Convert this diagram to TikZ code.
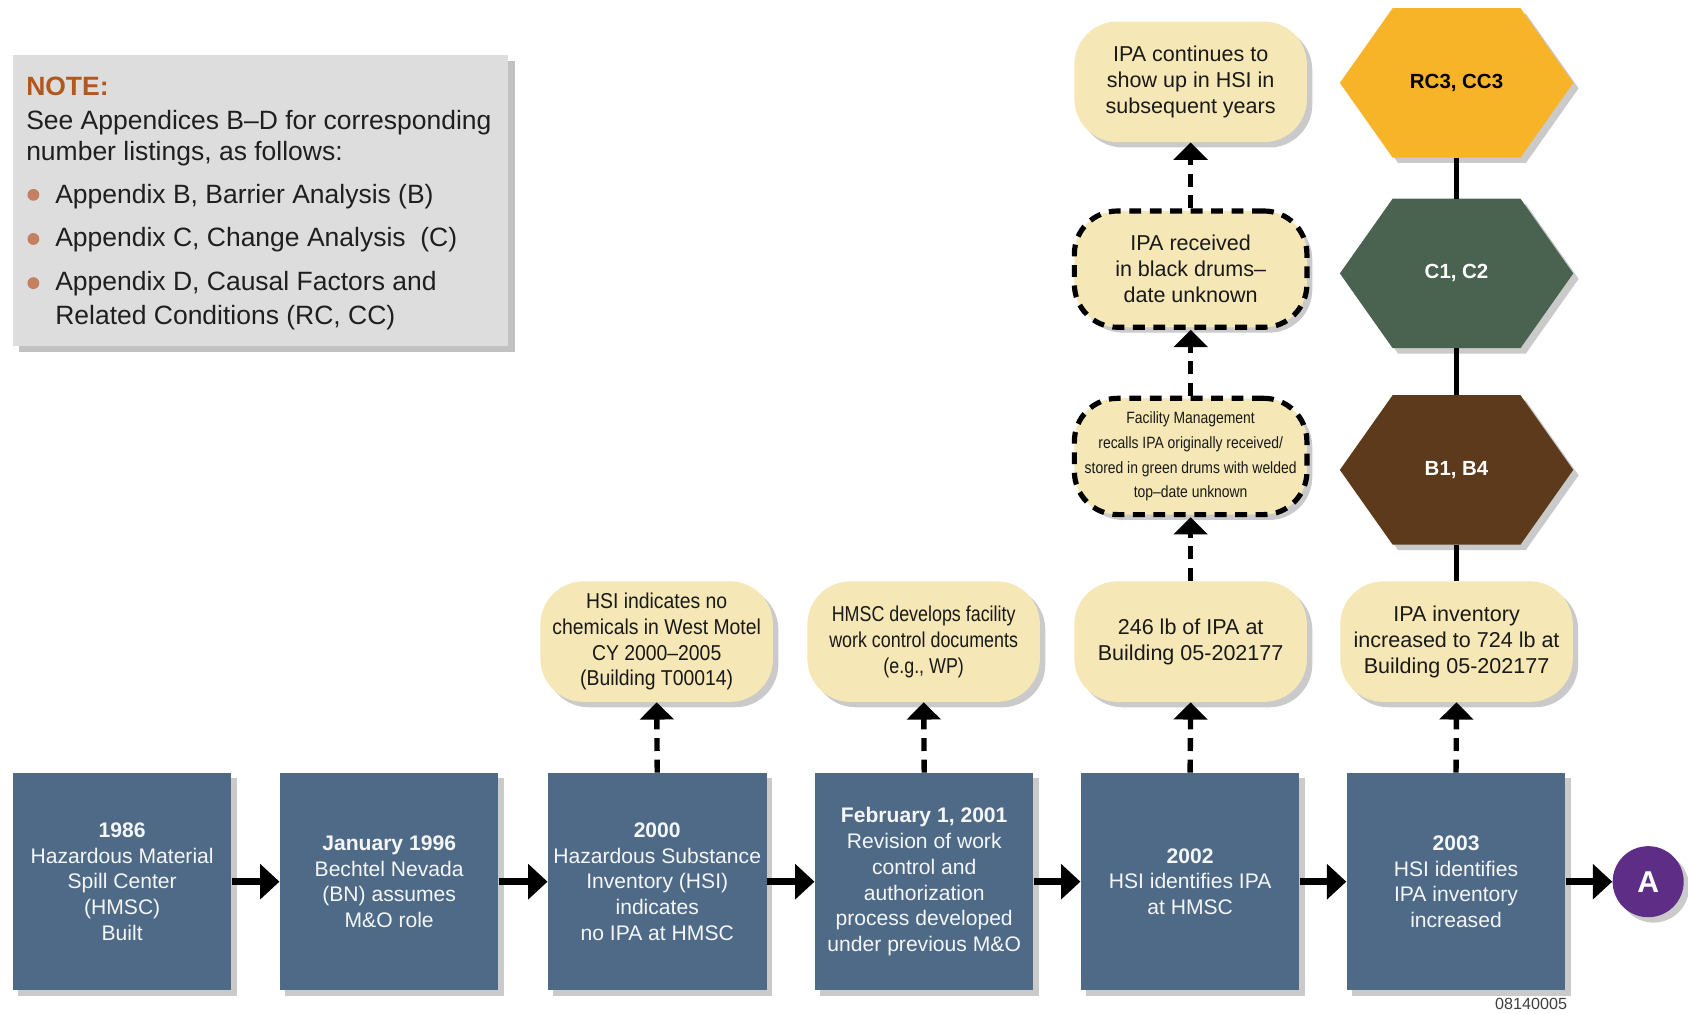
\documentclass[tikz,border=0pt]{standalone}
\usepackage{fontspec}
\setmainfont{Liberation Sans}
\newfontfamily\narrowA[FakeStretch=0.9]{Liberation Sans}
\newfontfamily\narrowB[FakeStretch=0.83]{Liberation Sans}
\newfontfamily\narrowC[FakeStretch=0.85]{Liberation Sans}
\usetikzlibrary{arrows.meta,shadows,calc}
\definecolor{boxblue}{RGB}{78,106,134}
\definecolor{pillfill}{RGB}{245,231,182}
\definecolor{notegray}{RGB}{221,221,221}
\definecolor{notebrown}{RGB}{176,88,30}
\definecolor{bulletc}{RGB}{196,128,96}
\definecolor{hexyellow}{RGB}{248,180,40}
\definecolor{hexgreen}{RGB}{74,99,80}
\definecolor{hexbrown}{RGB}{92,58,27}
\definecolor{purpleA}{RGB}{94,45,134}
\pgfdeclarelayer{bg}
\pgfsetlayers{bg,main}
\newcommand\hexfill[2]{%
  \fill[#2, drop shadow={shadow xshift=2.5pt,shadow yshift=-2.5pt,opacity=0.35,fill=black!60}]
    (#1.west) -- ($(#1.north west)+(49,0)$) -- ($(#1.north east)+(-49,0)$) --
    (#1.east) -- ($(#1.south east)+(-49,0)$) -- ($(#1.south west)+(49,0)$) -- cycle;}
\begin{document}
\begin{tikzpicture}[x=0.5pt,y=-0.5pt,
  shad/.style={drop shadow={shadow xshift=2.5pt,shadow yshift=-2.5pt,opacity=0.35,fill=black!60}},
  evt/.style={rectangle, fill=boxblue, minimum width=101.5pt, minimum height=101pt,
    align=center, text=white!94!boxblue, font=\fontsize{9.8}{12}\selectfont, inner sep=0pt, shad},
  pill/.style={rectangle, rounded corners=20pt, fill=pillfill, minimum width=108pt,
    minimum height=56pt, align=center, text=black!90, inner sep=0pt,
    font=\fontsize{10}{12}\selectfont, shad},
  dpill/.style={pill, draw=black, line width=2.4pt, dash pattern=on 5.5pt off 4pt, minimum height=54pt},
  hexnode/.style={rectangle, minimum width=108pt, minimum height=69pt, inner sep=0pt,
    font=\bfseries\fontsize{9.5}{11}\selectfont},
  sarrow/.style={line width=3.3pt, -{Triangle[width=16pt,length=9pt]}},
  darrow/.style={line width=2.5pt, dash pattern=on 6pt off 4pt, -{Triangle[width=15.5pt,length=8pt]}},
  conn/.style={line width=2.5pt},
  notetext/.style={anchor=base west, inner sep=0pt, font=\fontsize{12.3}{15}\selectfont, text=black!88},
  bullet/.style={circle, fill=bulletc, minimum size=5.5pt, inner sep=0pt}
]
\useasboundingbox (0,0) rectangle (1568,941);

% NOTE box
\node[rectangle, fill=notegray, minimum width=230pt, minimum height=135pt, inner sep=0pt,
  drop shadow={shadow xshift=3pt,shadow yshift=-3pt,opacity=0.4,fill=black!60}] (note) at (242,186) {};
\node[notetext, font=\bfseries\fontsize{12.3}{15}\selectfont, text=notebrown] (notehead) at (24,89) {NOTE:};
\node[notetext] (nl1) at (24,120) {See Appendices B–D for corresponding};
\node[notetext] (nl2) at (24,149) {number listings, as follows:};
\node[bullet] (bu1) at (31,181) {};
\node[notetext] (nb1) at (51,189) {Appendix B, Barrier Analysis (B)};
\node[bullet] (bu2) at (31,222) {};
\node[notetext] (nb2) at (51,229) {Appendix C, Change Analysis\ \ (C)};
\node[bullet] (bu3) at (31,263) {};
\node[notetext] (nb3) at (51,270) {Appendix D, Causal Factors and};
\node[notetext] (nb4) at (51,301) {Related Conditions (RC, CC)};

% Event boxes
\node[evt] (b1) at (113.5,819) {\textbf{1986}\\Hazardous Material\\Spill Center\\(HMSC)\\Built};
\node[evt] (b2) at (361.5,819) {\textbf{January 1996}\\Bechtel Nevada\\(BN) assumes\\M\&O role};
\node[evt] (b3) at (610.5,819) {\textbf{2000}\\Hazardous Substance\\Inventory (HSI)\\indicates\\no IPA at HMSC};
\node[evt] (b4) at (858.5,819) {\textbf{February 1, 2001}\\Revision of work\\control and\\authorization\\process developed\\under previous M\&O};
\node[evt] (b5) at (1105.5,819) {\textbf{2002}\\HSI identifies IPA\\at HMSC};
\node[evt] (b6) at (1352.5,819) {\textbf{2003}\\HSI identifies\\IPA inventory\\increased};
\node[circle, fill=purpleA, minimum size=33pt, inner sep=0pt, text=white,
  font=\bfseries\fontsize{14}{16}\selectfont, shad] (A) at (1531,819) {A};

\draw[sarrow] (b1) -- (b2);
\draw[sarrow] (b2) -- (b3);
\draw[sarrow] (b3) -- (b4);
\draw[sarrow] (b4) -- (b5);
\draw[sarrow] (b5) -- (b6);
\draw[sarrow] (b6) -- (A);

% Pills row
\node[pill, font=\narrowA\fontsize{10}{12}\selectfont] (p3) at (610,596)
  {HSI indicates no\\chemicals in West Motel\\CY 2000–2005\\(Building T00014)};
\node[pill, font=\narrowB\fontsize{10}{12}\selectfont] (p4) at (858,596)
  {HMSC develops facility\\work control documents\\(e.g., WP)};
\node[pill] (p5) at (1106,596) {246 lb of IPA at\\Building 05-202177};
\node[pill] (p6) at (1353,596) {IPA inventory\\increased to 724 lb at\\Building 05-202177};

\draw[darrow] (b3.north) -- (p3.south);
\draw[darrow] (b4.north) -- (p4.south);
\draw[darrow] (b5.north) -- (p5.south);
\draw[darrow] (b6.north) -- (p6.south);

% Column above 2002
\node[dpill, font=\narrowC\fontsize{7.6}{11.5}\selectfont] (q1) at (1106,424)
  {Facility Management\\recalls IPA originally received/\\stored in green drums with welded\\top–date unknown};
\node[dpill] (q2) at (1106,250) {IPA received\\in black drums–\\date unknown};
\node[pill] (q3) at (1106,76) {IPA continues to\\show up in HSI in\\subsequent years};

\draw[darrow] (p5.north) -- (q1.south);
\draw[darrow] (q1.north) -- (q2.south);
\draw[darrow] (q2.north) -- (q3.south);

% Hexagons
\node[hexnode, text=black] (h1) at (1353,77) {RC3, CC3};
\node[hexnode, text=white] (h2) at (1353,254) {C1, C2};
\node[hexnode, text=white] (h3) at (1353,436.5) {B1, B4};
\begin{pgfonlayer}{bg}
  \hexfill{h1}{hexyellow}
  \hexfill{h2}{hexgreen}
  \hexfill{h3}{hexbrown}
  \draw[conn] (h1.south) -- (h2.north);
  \draw[conn] (h2.south) -- (h3.north);
  \draw[conn] (h3.south) -- (p6.north);
\end{pgfonlayer}

\node[anchor=east, inner sep=0pt, font=\fontsize{7.5}{9}\selectfont, text=black!75] (code) at (1456,933) {08140005};
\end{tikzpicture}
\end{document}
